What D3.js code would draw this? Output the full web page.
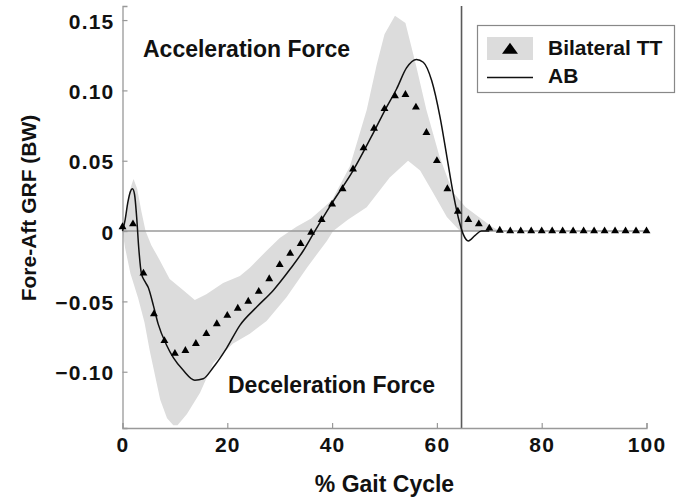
<!DOCTYPE html>
<html>
<head>
<meta charset="utf-8">
<script src="https://cdn.jsdelivr.net/npm/d3@7"></script>
<style>
  body { margin: 0; background: #fff; }
  text { font-family: "Liberation Sans", Arial, sans-serif; font-weight: bold; fill: #111; }
</style>
</head>
<body>
<div id="view"></div>
<script>
var width = 680, height = 499;

// x ticks / y ticks
var xTicks = [0, 20, 40, 60, 80, 100];
var yTicks = [-0.10, -0.05, 0, 0.05, 0.10, 0.15];

// Bilateral TT mean (triangles, every 2% gait)
var ttX = [0, 2, 4, 6, 8, 10, 12, 14, 16, 18, 20, 22, 24, 26, 28, 30, 32, 34, 36, 38, 40,
           42, 44, 46, 48, 50, 52, 54, 56, 58, 60, 62, 64, 66, 68, 70, 72, 74, 76, 78, 80,
           82, 84, 86, 88, 90, 92, 94, 96, 98, 100];
var ttY = [0.003, 0.005, -0.030, -0.059, -0.078, -0.087, -0.085, -0.080, -0.073, -0.066, -0.060,
           -0.055, -0.050, -0.043, -0.034, -0.024, -0.016, -0.009, -0.001, 0.008, 0.019,
           0.030, 0.044, 0.059, 0.073, 0.087, 0.096, 0.097, 0.088, 0.070, 0.050, 0.030, 0.014,
           0.008, 0.005, 0.002, 0.0005, 0, 0, 0, 0, 0, 0, 0, 0, 0, 0, 0, 0, 0, 0];

// Bilateral TT band (upper and lower edges)
var upX = [0, 0.6, 1.3, 2.1, 2.8, 3.6, 4.4, 5.5, 7, 9, 11.6, 13.8, 16, 19.2, 22.4, 24.3, 27.5, 30,
           33.2, 36, 40, 43.4, 46.6, 48.5, 50, 52, 54, 56, 58, 60.5, 63, 65.5, 68, 70.5, 72];
var upY = [0, 0.010, 0.028, 0.037, 0.030, 0.014, 0, -0.010, -0.020, -0.034, -0.042, -0.049, -0.045,
           -0.037, -0.032, -0.026, -0.014, -0.005, 0.003, 0.009, 0.022, 0.046, 0.086, 0.118, 0.140,
           0.153, 0.148, 0.118, 0.086, 0.053, 0.028, 0.017, 0.010, 0.003, 0];
var loX = [0, 0.5, 1.5, 3, 4.2, 5.2, 7.2, 8.5, 9.7, 10.5, 12.3, 14.8, 17.3, 21.1, 24.3, 27.5, 31.3,
           35.2, 39, 40.2, 43, 46.6, 51, 54.5, 56.8, 59.3, 61.9, 64.4, 72];
var loY = [0, -0.012, -0.030, -0.048, -0.065, -0.085, -0.120, -0.133, -0.138, -0.138, -0.130, -0.115,
           -0.094, -0.080, -0.073, -0.064, -0.047, -0.026, -0.007, 0, 0.008, 0.017, 0.038, 0.050,
           0.043, 0.027, 0.010, 0, 0];

// AB mean curve
var abX = [0, 0.5, 1, 1.5, 1.9, 2.3, 2.7, 3.1, 3.6, 4.3, 4.9, 5.9, 6.8, 8.4, 9.7, 11.6, 13.8, 15.4,
           17.3, 19.9, 22.4, 25.6, 28.8, 32, 34.5, 36.4, 40, 44, 47.9, 50.1, 52.3, 54.2, 56.1, 57.4,
           59, 60.6, 61.9, 63.1, 64.4, 65, 66, 67.3, 68.5, 70];
var abY = [0, 0.008, 0.020, 0.028, 0.030, 0.026, 0.010, -0.012, -0.030, -0.036, -0.040, -0.053, -0.066,
           -0.081, -0.090, -0.099, -0.106, -0.105, -0.097, -0.083, -0.067, -0.054, -0.042, -0.027,
           -0.014, -0.002, 0.020, 0.043, 0.070, 0.086, 0.101, 0.116, 0.122, 0.120, 0.107, 0.081,
           0.053, 0.027, 0.005, -0.002, -0.007, -0.003, 0, 0];

var toeOff = 64.7;

var svg = d3.select("#view").append("svg")
  .attr("width", width)
  .attr("height", height);

var x = d3.scaleLinear().domain([0, 100]).range([122.5, 646.5]);
var y = d3.scaleLinear().domain([-0.14, 0.16]).range([428, 6]);

// band polygon
var bandPts = upX.map(function(d, i) { return [d, upY[i]]; })
  .concat(loX.map(function(d, i) { return [d, loY[i]]; }).reverse());
var poly = d3.line()
  .x(function(d) { return x(d[0]); })
  .y(function(d) { return y(d[1]); })
  .curve(d3.curveLinearClosed);
svg.append("path")
  .attr("d", poly(bandPts))
  .style("fill", "#dcdcdc")
  .style("stroke", "none");

// zero line
svg.append("line")
  .attr("x1", x(0)).attr("x2", x(100))
  .attr("y1", y(0)).attr("y2", y(0))
  .style("stroke", "#9a9a9a").style("stroke-width", 1.5);

// toe-off line
svg.append("line")
  .attr("x1", x(toeOff)).attr("x2", x(toeOff))
  .attr("y1", y(0.16)).attr("y2", y(-0.14))
  .style("stroke", "#5a5a5a").style("stroke-width", 1.6);

// axes
var yAxis = d3.axisLeft(y).tickValues(yTicks).tickSize(-5).tickPadding(12)
  .tickFormat(function(d) { return d === 0 ? "0" : d3.format(".2f")(d); });
var xAxis = d3.axisBottom(x).tickValues(xTicks).tickSize(-5).tickPadding(12);

var gy = svg.append("g").attr("transform", "translate(" + x(0) + ",0)").call(yAxis);
var gx = svg.append("g").attr("transform", "translate(0," + y(-0.14) + ")").call(xAxis);
[gx, gy].forEach(function(g) {
  g.select(".domain").style("stroke", "#999").style("stroke-width", 1.3);
  g.selectAll(".tick line").style("stroke", "#999").style("stroke-width", 1.2);
  g.selectAll(".tick text")
    .style("font-family", "'Liberation Sans', Arial, sans-serif")
    .style("font-weight", "bold")
    .style("font-size", "21px")
    .style("letter-spacing", "1.2px")
    .style("fill", "#111");
});
gy.selectAll(".tick text").attr("x", -8).attr("dy", "0.38em");
gx.selectAll(".tick text").attr("y", 9).attr("dy", "0.71em");

// AB line
var abLine = d3.line()
  .x(function(d, i) { return x(d); })
  .y(function(d, i) { return y(abY[i]); })
  .curve(d3.curveMonotoneX);
svg.append("path")
  .attr("d", abLine(abX))
  .style("fill", "none")
  .style("stroke", "#111")
  .style("stroke-width", 1.5);

// TT triangles
var tri = d3.symbol().type(d3.symbolTriangle).size(27);
svg.selectAll(".node")
  .data(ttX).enter()
  .append("path")
  .attr("class", "node")
  .attr("d", tri)
  .attr("transform", function(d, i) { return "translate(" + x(d) + "," + y(ttY[i]) + ")"; })
  .style("fill", "#000");

// annotations
svg.append("text").attr("x", 143).attr("y", 57).style("font-size", "23px").text("Acceleration Force");
svg.append("text").attr("x", 228).attr("y", 393).style("font-size", "23px").text("Deceleration Force");

// axis titles
svg.append("text")
  .attr("x", x(50)).attr("y", 492)
  .attr("text-anchor", "middle")
  .style("font-size", "23px")
  .text("% Gait Cycle");
svg.append("text")
  .attr("transform", "translate(36,208) rotate(-90)")
  .attr("text-anchor", "middle")
  .style("font-size", "21px")
  .text("Fore-Aft GRF (BW)");

// legend
var lg = svg.append("g");
lg.append("rect")
  .attr("x", 477.5).attr("y", 25.5).attr("width", 197).attr("height", 67)
  .style("fill", "#fff").style("stroke", "#888").style("stroke-width", 1.2);
lg.append("rect")
  .attr("x", 487).attr("y", 37).attr("width", 46).attr("height", 23)
  .style("fill", "#dcdcdc");
lg.append("path")
  .attr("d", d3.symbol().type(d3.symbolTriangle).size(110))
  .attr("transform", "translate(510,50) scale(1,0.8)")
  .style("fill", "#000");
lg.append("line")
  .attr("x1", 487).attr("x2", 533).attr("y1", 77.5).attr("y2", 77.5)
  .style("stroke", "#111").style("stroke-width", 1.6);
lg.append("text").attr("x", 548).attr("y", 55).style("font-size", "21px").text("Bilateral TT");
lg.append("text").attr("x", 548).attr("y", 83).style("font-size", "21px").text("AB");
</script>
</body>
</html>
